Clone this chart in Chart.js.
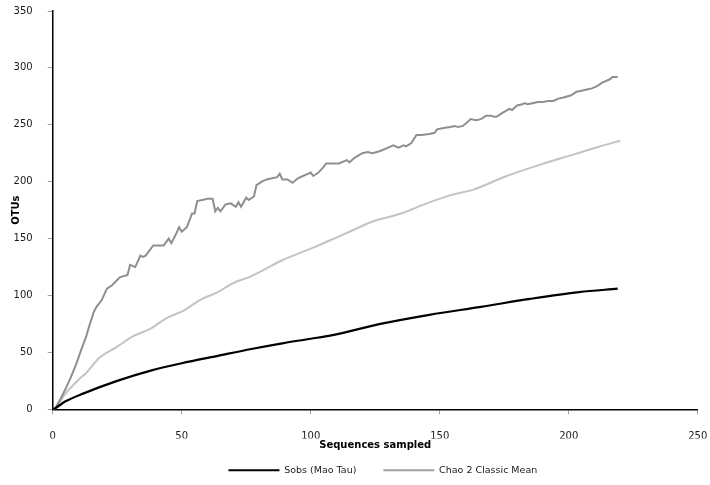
<!DOCTYPE html>
<html>
<head>
<meta charset="utf-8">
<script src="https://cdn.jsdelivr.net/npm/chart.js@4/dist/chart.umd.min.js"></script>
<style>
  html, body { margin: 0; padding: 0; background: #fff; }
  #wrap { width: 710px; height: 485px; }
</style>
</head>
<body>
<div id="wrap"><canvas id="curveChart"></canvas></div>
<script>
// values
const sobsX = [0, 1, 5, 12, 25, 38, 50, 64, 77, 89, 100, 108, 127, 146, 166, 185, 204, 219];
const sobsY = [0, 1, 7, 14, 25, 34, 40.5, 47, 53, 58, 62, 65, 75, 83, 90, 97, 103, 106];

const chaoX = [0, 1, 3, 5, 7, 9, 11, 13, 14, 16, 17, 18, 19, 21, 23, 26, 29, 30, 32, 34, 35, 36, 39, 41, 43, 45, 46, 48, 49, 50,
  52, 54, 55, 56, 58, 60, 62, 63, 64, 65, 67, 69, 71, 72, 73, 75, 76, 78, 79, 81, 83, 85, 87, 88, 89, 91, 93, 95, 97, 98,
  100, 101, 103, 105, 106, 109, 111, 114, 115, 117, 120, 122, 124, 127, 130, 132, 134, 136, 137, 139, 141, 143, 146, 148, 149,
  151, 154, 156, 157, 159, 161, 162, 164, 166, 168, 170, 171, 172, 174, 177, 178, 180, 182, 183, 184, 186, 188, 190, 192, 194,
  196, 198, 201, 203, 205, 207, 209, 211, 213, 216, 217, 219];
const chaoY = [0, 1, 9, 18, 28, 39, 52, 64, 72, 86, 90, 93, 96, 106, 109, 116, 118, 127, 125, 135, 134, 135, 144, 144, 144, 150, 146, 155, 160, 156,
  160, 172, 172, 183, 184, 185, 185, 174, 177, 174, 180, 181, 178, 182, 178, 186, 184, 187, 197, 200, 202, 203, 204, 207, 202, 202, 199, 203, 205, 206,
  208, 205, 208, 213, 216, 216, 216, 219, 217, 221, 225, 226, 225, 227, 230, 232, 230, 232, 231, 234, 241, 241, 242, 243, 246,
  247, 248, 249, 248, 249, 253, 255, 254, 255, 258, 258, 257, 257, 260, 264, 263, 267, 268, 269, 268, 269, 270, 270, 271, 271,
  273, 274, 276, 279, 280, 281, 282, 284, 287, 290, 292, 292];

const thirdX = [0, 1, 5, 10, 13, 18, 25, 31, 38, 44, 51, 57, 64, 70, 77, 89, 102, 111, 115, 124, 135, 145, 154, 163, 176, 189, 202, 212, 220];
const thirdY = [0, 1, 14, 26, 32, 45, 55, 64, 71, 80, 87, 96, 103, 111, 117, 131, 143, 152, 156, 165, 172, 181, 188, 193, 205, 215, 224, 231, 236];

const xTicks = [0, 50, 100, 150, 200, 250];
const yTicks = [0, 50, 100, 150, 200, 250, 300, 350];

function pts(xs, ys) {
    return xs.map((x, i) => ({ x: x, y: ys[i] }));
}

Chart.defaults.font.family = "'DejaVu Sans', Verdana, sans-serif";
Chart.defaults.font.size = 10;
Chart.defaults.color = '#1a1a1a';

// legend sits a bit right of centre in the original
const legendShift = {
    id: 'legendShift',
    afterLayout(chart) {
        chart.legend.left += 34;
        chart.legend.right += 34;
    }
};

const ctx = document.getElementById('curveChart').getContext('2d');
const curveChart = new Chart(ctx, {
    type: 'line',
    data: {
        datasets: [
            {
                label: 'Sobs (Mao Tau)',
                data: pts(sobsX, sobsY),
                borderColor: '#000000',
                backgroundColor: '#000000',
                borderWidth: 2.2,
                pointRadius: 0,
                cubicInterpolationMode: 'monotone'
            },
            {
                label: 'Chao 2 Classic Mean',
                data: pts(chaoX, chaoY),
                borderColor: '#8f8f8f',
                backgroundColor: '#a0a0a0',
                borderWidth: 2,
                pointRadius: 0,
                tension: 0
            },
            {
                label: 'Series 3',
                data: pts(thirdX, thirdY),
                borderColor: '#c3c3c3',
                backgroundColor: '#c3c3c3',
                borderWidth: 2,
                pointRadius: 0,
                cubicInterpolationMode: 'monotone'
            }
        ]
    },
    options: {
        responsive: true,
        maintainAspectRatio: false,
        animation: false,
        layout: { padding: { top: 11, right: 12.3, left: 0, bottom: 0 } },
        plugins: {
            tooltip: { enabled: false },
            legend: {
                position: 'bottom',
                labels: {
                    font: { size: 9.5 },
                    boxWidth: 51,
                    boxHeight: 2,
                    padding: 27,
                    filter: item => item.datasetIndex < 2,
                    generateLabels: chart => {
                        const items = Chart.defaults.plugins.legend.labels.generateLabels(chart);
                        items.forEach(item => {
                            item.fillStyle = item.datasetIndex === 0 ? '#000000' : '#a0a0a0';
                            item.lineWidth = 0;
                        });
                        return items;
                    }
                }
            }
        },
        scales: {
            x: {
                type: 'linear',
                min: 0,
                max: 250,
                afterBuildTicks: axis => { axis.ticks = xTicks.map(v => ({ value: v })); },
                afterFit: axis => {
                    axis.height = 29.2;
                    axis.paddingRight = 10;
                    axis.paddingLeft = 0;
                },
                grid: { drawOnChartArea: false, drawTicks: true, tickLength: 5, color: '#a0a0a0' },
                border: { color: '#000000', width: 1.5 },
                ticks: { padding: 16, maxRotation: 0 },
                title: {
                    display: true,
                    text: 'Sequences sampled',
                    font: { weight: 'bold', size: 10 },
                    color: '#000000',
                    padding: { top: 0, bottom: -13.2 }
                }
            },
            y: {
                min: 0,
                max: 350,
                afterBuildTicks: axis => { axis.ticks = yTicks.map(v => ({ value: v })); },
                afterFit: axis => {
                    axis.width = 52.7;
                    axis.paddingTop = 6;
                    axis.paddingBottom = 0;
                },
                grid: { drawOnChartArea: false, drawTicks: true, tickLength: 5, color: '#a0a0a0' },
                border: { color: '#000000', width: 1.5 },
                ticks: { padding: 15 },
                title: {
                    display: true,
                    text: 'OTUs',
                    font: { weight: 'bold', size: 10 },
                    color: '#000000',
                    padding: { top: 10, bottom: 0 }
                }
            }
        }
    },
    plugins: [legendShift]
});
</script>
</body>
</html>
